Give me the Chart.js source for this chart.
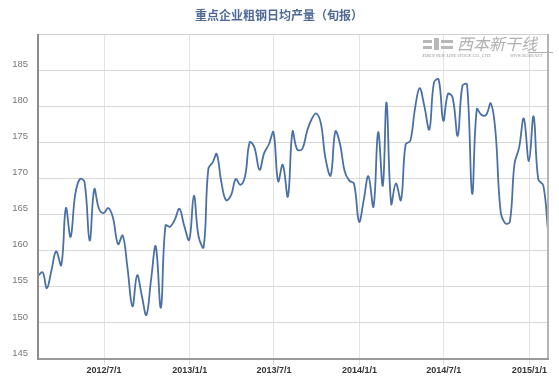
<!DOCTYPE html>
<html>
<head>
<meta charset="utf-8">
<script src="https://cdn.jsdelivr.net/npm/chart.js@4/dist/chart.umd.min.js"></script>
<style>
  html, body { margin: 0; padding: 0; background: #fff; }
  #wrap { width: 559px; height: 385px; position: relative; }
</style>
</head>
<body>
<div id="wrap"><canvas id="steelChart"></canvas></div>
<script>
// 旬报 (dekad) readings, 2012/2/10 .. 2015/2/10
const startMonth = [2012, 2];
const pointCount = 109;

const values2012 = [156.5, 157.0, 154.8, 157.3, 159.9, 158.0, 165.9, 161.9, 167.8, 169.9, 169.5, 161.4,
                    168.5, 165.8, 165.2, 165.9, 164.6, 160.9, 162.1, 157.8, 152.3, 156.6, 153.8, 151.1,
                    156.0, 160.6, 152.1, 163.5, 163.3, 164.3, 165.8, 163.5, 161.5];
const values2013 = [167.6, 162.0, 160.5, 171.3, 172.3, 173.4, 169.5, 167.0, 167.7, 169.9, 169.1, 170.3,
                    175.0, 174.3, 171.2, 173.5, 174.7, 176.4, 169.6, 171.9, 167.5, 176.5, 174.0, 174.1,
                    176.5, 178.2, 179.0, 177.6, 172.7, 170.4, 176.5, 174.8, 171.0, 169.7, 169.3, 164.0];
const values2014 = [167.0, 170.3, 166.1, 176.4, 169.0, 180.5, 166.5, 169.3, 167.0, 174.7, 175.2, 179.6,
                    182.5, 180.1, 176.8, 183.3, 183.7, 178.0, 181.7, 181.2, 175.9, 182.8, 183.0, 167.9,
                    179.6, 178.8, 178.8, 180.4, 176.6, 165.5, 163.8, 164.0, 172.0, 174.3, 178.3, 172.4];
const values2015 = [178.6, 169.9, 169.0, 162.8];

const xTickDates = ['2012/7/1', '2013/1/1', '2013/7/1', '2014/1/1', '2014/7/1', '2015/1/1'];
const yTicks = [145, 150, 155, 160, 165, 170, 175, 180, 185, 190];

const titleText = '重点企业粗钢日均产量（旬报）';

// helpers: dates as day numbers
function dayNum(y, m, d) { return Date.UTC(y, m - 1, d) / 86400000; }
function parseDay(s) { const p = s.split('/').map(Number); return dayNum(p[0], p[1], p[2]); }
function fmtDay(n) {
    const d = new Date(n * 86400000);
    return d.getUTCFullYear() + '/' + (d.getUTCMonth() + 1) + '/' + d.getUTCDate();
}

// dekad dates: 10th, 20th and last day of each month
const dekadDays = [];
let yy = startMonth[0], mm = startMonth[1];
while (dekadDays.length < pointCount) {
    const last = new Date(Date.UTC(yy, mm, 0)).getUTCDate();
    [10, 20, last].forEach(d => { if (dekadDays.length < pointCount) dekadDays.push(dayNum(yy, mm, d)); });
    mm++; if (mm > 12) { mm = 1; yy++; }
}

const allValues = values2012.concat(values2013, values2014, values2015);
const points = dekadDays.map((x, i) => ({ x: x, y: allValues[i] }));

// title, watermark and plot frame
const decorPlugin = {
    id: 'decor',
    beforeDatasetsDraw(chart) {
        const ctx = chart.ctx;
        ctx.save();
        // watermark
        ctx.fillStyle = '#b8b8b8';
        ctx.fillRect(423, 40, 9, 3);
        ctx.fillRect(423, 46, 9, 3);
        ctx.fillRect(434, 38, 5, 12);
        ctx.fillRect(441, 40, 12, 3);
        ctx.fillRect(441, 46, 12, 3);
        ctx.font = 'italic 16px "Noto Sans CJK SC"';
        ctx.textAlign = 'left';
        ctx.textBaseline = 'middle';
        ctx.fillStyle = '#b0b0b0';
        ctx.fillText('西本新干线', 457, 44);
        ctx.font = 'italic 4.5px "Liberation Serif"';
        ctx.fillStyle = '#999';
        ctx.fillText('XIBEN NEW LINE STOCK CO., LTD.', 422, 56);
        ctx.fillText('WWW.96369.NET', 510, 56);
        ctx.strokeStyle = '#b0b0b0';
        ctx.lineWidth = 1;
        ctx.beginPath(); ctx.moveTo(528, 52.5); ctx.lineTo(553, 52.5); ctx.stroke();
        ctx.restore();
    },
    afterDraw(chart) {
        const ctx = chart.ctx, a = chart.chartArea;
        ctx.save();
        // title
        ctx.font = 'bold 12px "Noto Sans CJK SC"';
        ctx.fillStyle = '#4f6a95';
        ctx.textAlign = 'center';
        ctx.textBaseline = 'middle';
        ctx.fillText(titleText, 279, 15);
        // frame
        ctx.lineWidth = 1;
        ctx.strokeStyle = '#d0d0d0';
        ctx.beginPath(); ctx.moveTo(a.left, a.top + 0.5); ctx.lineTo(a.right, a.top + 0.5); ctx.stroke();
        ctx.lineWidth = 2;
        ctx.strokeStyle = '#b4b4b4';
        ctx.beginPath(); ctx.moveTo(a.right, a.top); ctx.lineTo(a.right, a.bottom); ctx.stroke();
        ctx.strokeStyle = '#9a9a9a';
        ctx.beginPath(); ctx.moveTo(a.left, a.bottom); ctx.lineTo(a.right + 1, a.bottom); ctx.stroke();
        ctx.strokeStyle = '#8c8c8c';
        ctx.beginPath(); ctx.moveTo(a.left, a.top); ctx.lineTo(a.left, a.bottom + 1); ctx.stroke();
        ctx.restore();
    }
};

const ctx = document.getElementById('steelChart').getContext('2d');
window.chartInstance = new Chart(ctx, {
    type: 'line',
    data: {
        datasets: [{
            label: '粗钢日均产量',
            data: points,
            borderColor: '#4a70a6',
            borderWidth: 1.8,
            pointRadius: 0,
            tension: 0.4,
            fill: false
        }]
    },
    options: {
        responsive: true,
        maintainAspectRatio: false,
        animation: false,
        layout: { padding: { top: 34, right: 11, left: 0, bottom: 0 } },
        plugins: {
            legend: { display: false },
            title: { display: false },
            tooltip: { enabled: false }
        },
        scales: {
            x: {
                type: 'linear',
                min: dekadDays[0],
                max: dekadDays[dekadDays.length - 1],
                afterBuildTicks: s => { s.ticks = xTickDates.map(t => ({ value: parseDay(t) })); },
                afterFit: s => { s.height = 26; },
                border: { display: false },
                grid: { color: '#e3e3e3', lineWidth: 1, drawTicks: true, tickLength: 6, tickColor: '#dcdcdc' },
                ticks: {
                    autoSkip: false,
                    maxRotation: 0,
                    padding: 0,
                    color: '#333',
                    font: { family: '"Liberation Sans", Arial', size: 9, weight: 'bold' },
                    callback: v => fmtDay(v)
                }
            },
            y: {
                min: yTicks[0],
                max: yTicks[yTicks.length - 1],
                afterBuildTicks: s => { s.ticks = yTicks.map(v => ({ value: v })); },
                afterFit: s => { s.width = 38; },
                border: { display: false },
                grid: { color: '#d8d8d8', lineWidth: 1, drawTicks: false },
                ticks: {
                    padding: 10,
                    labelOffset: -6,
                    color: '#777',
                    font: { family: '"Liberation Sans", Arial', size: 9.5 },
                    callback: v => (v === 190 ? '' : v)
                }
            }
        }
    },
    plugins: [decorPlugin]
});
</script>
</body>
</html>
